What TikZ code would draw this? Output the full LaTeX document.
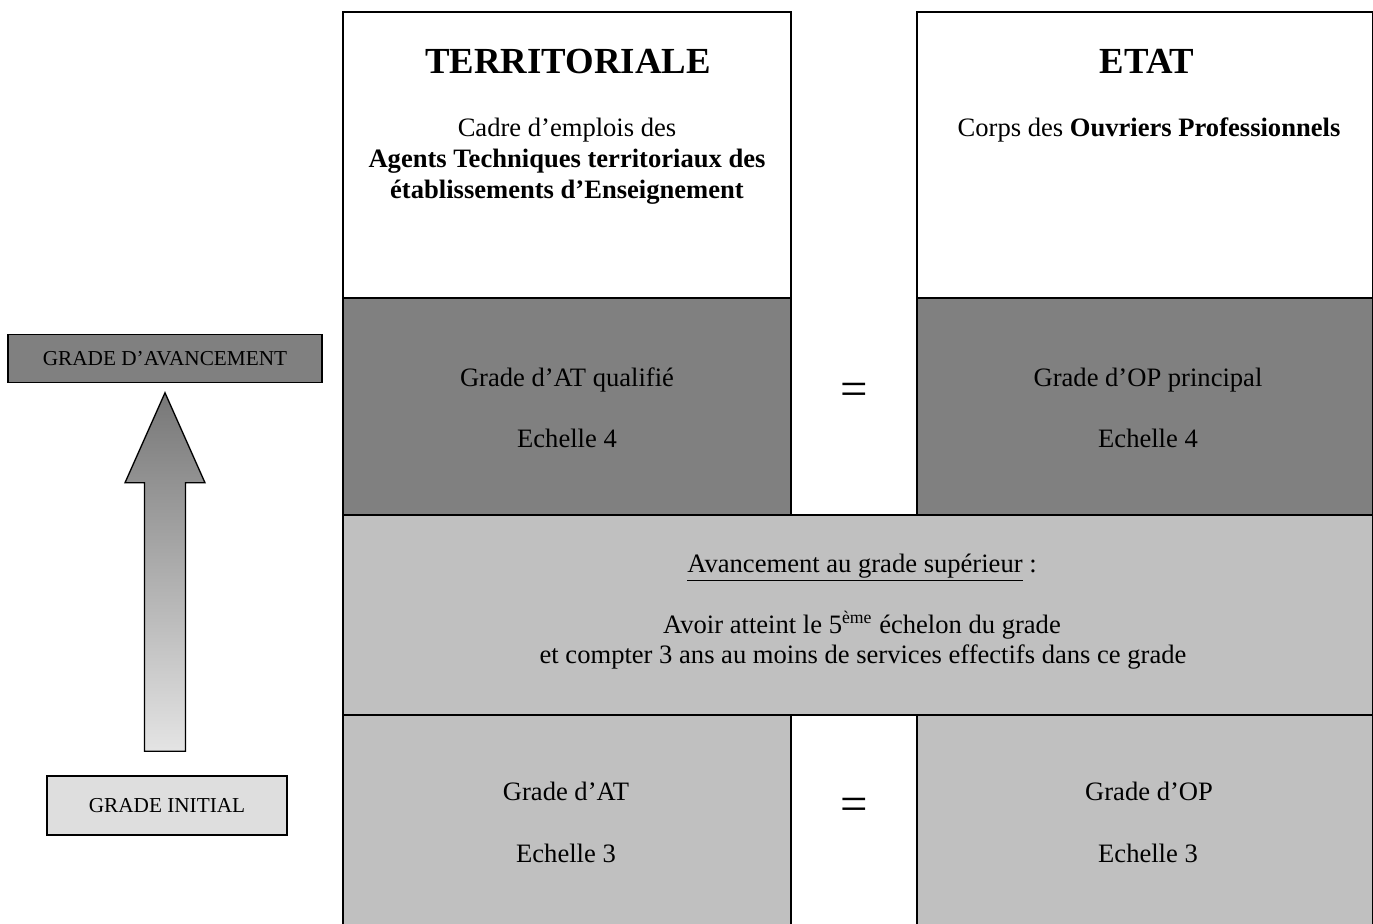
\documentclass[tikz,border=0pt]{standalone}
\usepackage{fontspec}
\setmainfont{Liberation Serif}
\usetikzlibrary{calc}
\definecolor{darkband}{HTML}{808080}
\definecolor{lightband}{HTML}{C0C0C0}
\definecolor{inibox}{HTML}{DEDEDE}
\definecolor{arrowtop}{HTML}{777777}
\definecolor{arrowbot}{HTML}{E4E4E4}
\begin{document}
\begin{tikzpicture}[x=0.4515pt,y=-0.4515pt,
  rule/.style={line width=0.9pt},
  txt/.style={font=\fontsize{12}{14}\selectfont, anchor=base, inner sep=0},
  headtxt/.style={font=\fontsize{16.6}{20}\selectfont\bfseries, anchor=base, inner sep=0},
  eqtxt/.style={font=\fontsize{22}{24}\selectfont, inner sep=0},
  sidebox/.style={draw, line width=0.7pt, font=\fontsize{9.6}{11}\selectfont, inner sep=0}
]
\useasboundingbox (0,0) rectangle (1373,924);
\clip (0,0) rectangle (1373,924);
\fill[white] (0,0) rectangle (1373,924);
% band fills
\fill[darkband] (343,298) rectangle (791,515);
\fill[darkband] (917,298) rectangle (1375,515);
\fill[lightband] (343,515) rectangle (1375,715);
\fill[lightband] (343,715) rectangle (791,930);
\fill[lightband] (917,715) rectangle (1375,930);
% table rules
\draw[rule] (343,930) -- (343,12) -- (791,12) -- (791,515);
\draw[rule] (917,515) -- (917,12) -- (1373,12) -- (1373,930);
\draw[rule] (343,298) -- (791,298);
\draw[rule] (917,298) -- (1373,298);
\draw[rule] (343,515) -- (1373,515);
\draw[rule] (343,715) -- (1373,715);
\draw[rule] (791,715) -- (791,930);
\draw[rule] (917,715) -- (917,930);
% headers
\node[headtxt] (terr) at (568,74) {TERRITORIALE};
\node[txt] (cadrea) at (567,137) {Cadre d’emplois des};
\node[txt] (cadreb) at (567,168) {\bfseries Agents Techniques territoriaux des};
\node[txt] (cadrec) at (567,199) {\bfseries établissements d’Enseignement};
\node[headtxt] (etat) at (1147,74) {ETAT};
\node[txt] (corps) at (1149,137) {Corps des \textbf{Ouvriers Professionnels}};
% upper grade
\node[txt] (gal) at (567,387) {Grade d’AT qualifié};
\node[txt] (eal) at (567,448) {Echelle 4};
\node[eqtxt] (eqa) at (854,394) {=};
\node[txt] (gar) at (1148,387) {Grade d’OP principal};
\node[txt] (ear) at (1148,448) {Echelle 4};
% conditions
\node[txt] (avt) at (862,572) {\underline{Avancement au grade supérieur} :};
\node[txt] (conda) at (862,633) {Avoir atteint le 5\textsuperscript{ème} échelon du grade};
\node[txt] (condb) at (863,663) {et compter 3 ans au moins de services effectifs dans ce grade};
% lower grade
\node[txt] (gbl) at (566,800) {Grade d’AT};
\node[txt] (ebl) at (566,862) {Echelle 3};
\node[eqtxt] (eqb) at (854,809) {=};
\node[txt] (gbr) at (1149,800) {Grade d’OP};
\node[txt] (ebr) at (1148,862) {Echelle 3};
% side legend
\node[sidebox, fill=darkband, minimum width={314*0.4515pt}, minimum height={48*0.4515pt}] (adv) at (165,358.5) {GRADE D’AVANCEMENT};
\node[sidebox, fill=inibox, minimum width={240*0.4515pt}, minimum height={59*0.4515pt}] (ini) at (167,805.5) {GRADE INITIAL};
\coordinate (tip) at ($(adv.south)+(0,9.5)$);
\coordinate (tail) at ($(tip |- ini.north)+(0,-24)$);
\shadedraw[top color=arrowtop, bottom color=arrowbot, draw=black, line width=0.6pt, line join=miter]
  (tip) -- ($(tip)+(-40,90)$) -- ($(tip)+(-20.5,90)$) -- ($(tail)+(-20.5,0)$)
  -- ($(tail)+(20.5,0)$) -- ($(tip)+(20.5,90)$) -- ($(tip)+(40,90)$) -- cycle;
\end{tikzpicture}
\end{document}
